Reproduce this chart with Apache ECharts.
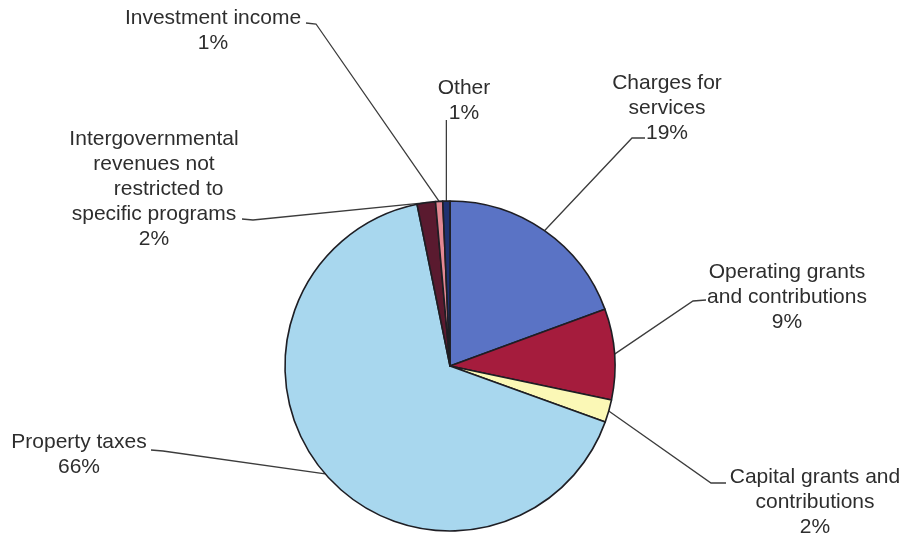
<!DOCTYPE html>
<html>
<head>
<meta charset="utf-8">
<script src="https://cdn.jsdelivr.net/npm/echarts@6/dist/echarts.min.js"></script>
<style>
  html, body { margin: 0; padding: 0; background: #ffffff; }
  #chart { width: 904px; height: 537px; }
</style>
</head>
<body>
<div id="chart"></div>
<script>
// Revenue sources (share of total, %), listed clockwise from 12 o'clock
const categories = [
  'Charges for\nservices',
  'Operating grants\nand contributions',
  'Capital grants and\ncontributions',
  'Property taxes',
  'Intergovernmental\nrevenues not\n     restricted to\nspecific programs',
  'Investment income',
  'Other'
];
const revenueShare = [19.4, 8.9, 2.2, 66.3, 1.8, 0.7, 0.7];
const sliceColors = ['#5a73c5', '#a51c3d', '#fbf8b6', '#a8d7ee', '#5a1a2f', '#e38893', '#1f3170'];

// Where each label block sits (centre x, top y) and the bend of its leader line
const labelSpots = [
  { x: 667, y: 71,  bend: [632, 138], end: [645, 138] },
  { x: 787, y: 260, bend: [693, 301], end: [706, 300] },
  { x: 815, y: 465, bend: [711, 483], end: [726, 483] },
  { x: 79,  y: 430, bend: [163, 451], end: [151, 450] },
  { x: 154, y: 127, bend: [253, 220], end: [242, 219] },
  { x: 213, y: 6,   bend: [316, 24],  end: [306, 23] },
  { x: 464, y: 76,  bend: null,       end: [445, 120] }
];

const chart = echarts.init(document.getElementById('chart'), null, { renderer: 'canvas' });

chart.setOption({
  backgroundColor: '#ffffff',
  animation: false,
  textStyle: { fontFamily: '"Liberation Sans", Arial, sans-serif' },
  series: [{
    type: 'pie',
    center: [450, 366],
    radius: 165,
    startAngle: 90,
    clockwise: true,
    avoidLabelOverlap: false,
    percentPrecision: 0,
    data: categories.map((name, i) => ({
      name: name,
      value: revenueShare[i],
      itemStyle: { color: sliceColors[i] }
    })),
    itemStyle: { borderColor: '#1e1e24', borderWidth: 1.6 },
    label: {
      show: true,
      position: 'outside',
      formatter: '{b}\n{d}%',
      color: '#2e2e2e',
      fontSize: 21,
      lineHeight: 25,
      fontFamily: '"Liberation Sans", Arial, sans-serif'
    },
    labelLine: {
      show: true,
      length: 10,
      length2: 10,
      lineStyle: { color: '#3c3c3c', width: 1.3 }
    },
    labelLayout: function (params) {
      const spot = labelSpots[params.dataIndex];
      const anchor = params.labelLinePoints[0];
      const bend = spot.bend || [anchor[0], spot.end[1] + 1];
      const end = spot.bend ? spot.end : [anchor[0], spot.end[1]];
      return {
        x: spot.x,
        y: spot.y,
        align: 'center',
        verticalAlign: 'top',
        labelLinePoints: [anchor, bend, end]
      };
    },
    emphasis: { disabled: true }
  }]
});
</script>
</body>
</html>
